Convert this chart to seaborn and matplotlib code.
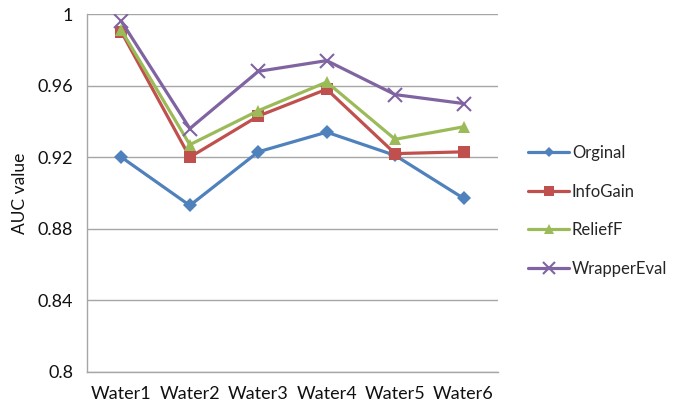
import pandas as pd
import matplotlib
matplotlib.use("Agg")
import matplotlib.pyplot as plt
import seaborn as sns
from matplotlib.ticker import FuncFormatter

# values
datasets = ['Water1', 'Water2', 'Water3', 'Water4', 'Water5', 'Water6']
orginal = [0.920, 0.893, 0.923, 0.934, 0.921, 0.897]
infogain = [0.990, 0.920, 0.943, 0.958, 0.922, 0.923]
relieff = [0.991, 0.927, 0.946, 0.962, 0.930, 0.937]
wrapper = [0.996, 0.936, 0.968, 0.974, 0.955, 0.950]

methods = ['Orginal', 'InfoGain', 'ReliefF', 'WrapperEval']
series = [orginal, infogain, relieff, wrapper]

df = pd.DataFrame({
    'dataset': datasets * len(methods),
    'auc': sum(series, []),
    'method': [m for m in methods for _ in datasets],
})

sns.set_style('white')
plt.rcParams['font.family'] = ['Lato', 'DejaVu Sans']

colors = {'Orginal': '#4F81BD', 'InfoGain': '#C0504D',
          'ReliefF': '#9BBB59', 'WrapperEval': '#8064A2'}
markers = {'Orginal': 'D', 'InfoGain': 's', 'ReliefF': '^', 'WrapperEval': 'x'}
msize = {'Orginal': 7, 'InfoGain': 8.5, 'ReliefF': 9, 'WrapperEval': 10}

fig = plt.figure(figsize=(6.81, 4.15), dpi=100)
ax = fig.add_axes([0.128, 0.104, 0.603, 0.862])

for m in methods:
    sub = df[df['method'] == m]
    sns.lineplot(data=sub, x='dataset', y='auc', ax=ax, color=colors[m],
                 marker=markers[m], markersize=msize[m], linewidth=2.3,
                 markeredgewidth=1.5 if m == 'WrapperEval' else 0,
                 markeredgecolor=colors[m], label=m, sort=False)

ax.set_ylim(0.8, 1.0)
ax.set_xlim(-0.5, 5.5)
ax.set_yticks([0.8, 0.84, 0.88, 0.92, 0.96, 1.0])
ax.yaxis.set_major_formatter(FuncFormatter(lambda v, p: f'{v:g}'))
ax.grid(axis='y', color='#a6a6a6', linewidth=1)
ax.set_axisbelow(True)
for s in ['top', 'right']:
    ax.spines[s].set_visible(False)
for s in ['left', 'bottom']:
    ax.spines[s].set_color('#a6a6a6')
    ax.spines[s].set_linewidth(1)
ax.tick_params(axis='both', length=0, labelsize=13, colors='#111111', pad=10)
ax.set_xlabel('')
ax.set_ylabel('AUC value', fontsize=12.5, color='#111111', labelpad=7)

leg = ax.legend(loc='center left', bbox_to_anchor=(1.073, 0.45), frameon=False,
                fontsize=12, handlelength=2.5, labelspacing=1.35, handletextpad=0.15,
                borderpad=0, borderaxespad=0)
for h in leg.legend_handles:
    h.set_markersize(h.get_markersize() * 0.8)

fig.savefig('out.png', dpi=100)
